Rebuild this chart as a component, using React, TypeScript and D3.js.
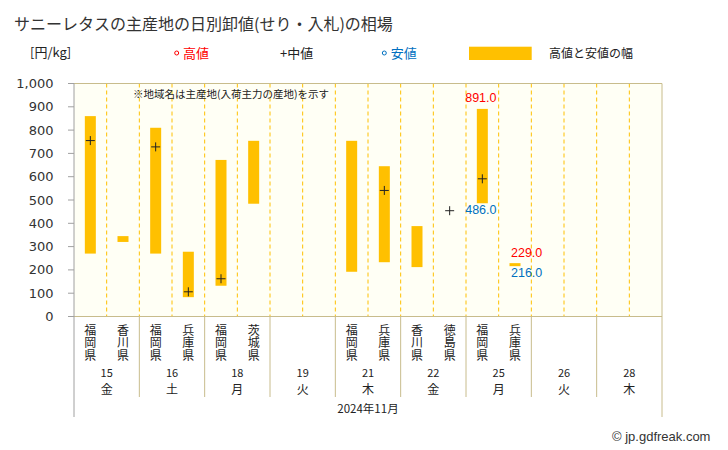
import React from "react";
import * as d3 from "d3";

const dates = ["15", "16", "18", "19", "21", "22", "25", "26", "28"];
const weekdays = ["金", "土", "月", "火", "木", "金", "月", "火", "木"];
const regions = ["福岡県", "香川県", "福岡県", "兵庫県", "福岡県", "茨城県", "", "", "福岡県", "兵庫県", "香川県", "徳島県", "福岡県", "兵庫県", "", "", "", ""];
const highs: (number | null)[] = [860, 345, 810, 278, 672, 754, null, null, 754, 645, 388, null, 891, 229, null, null, null, null];
const lows: (number | null)[] = [270, 320, 270, 83, 132, 484, null, null, 192, 233, 212, null, 486, 216, null, null, null, null];
const mids: (number | null)[] = [755, null, 728, 106, 162, null, null, null, null, 541, null, 454, 591, null, null, null, null, null];
const labeledSlots = [12, 13];
const labelAnchors = ["middle", "start"];
const yTicks = [0, 100, 200, 300, 400, 500, 600, 700, 800, 900, 1000];
const monthLabel = "2024年11月";

const W = 728, H = 450;
const L = 74, R = 662, T = 83.5, B = 316.5;
const JP = "'Noto Sans CJK JP', 'Noto Sans', sans-serif";
const NUM = "'DejaVu Sans', Verdana, sans-serif";
const LAB = "'Liberation Sans', Arial, sans-serif";
const BAR = "#FFC000";
const BORDER = "#C8BC8C";
const AXIS = "#A0A0A0";

export default function App() {
  const slots = d3.range(regions.length);
  const x = d3.scaleBand<number>().domain(slots).range([L, R]).padding(0);
  const y = d3.scaleLinear().domain([0, 1000]).range([B, T]);
  const dateX = d3.scaleBand<number>().domain(d3.range(dates.length)).range([L, R]);
  const bw = 11;
  const cx = (i: number) => (x(i) as number) + x.bandwidth() / 2;
  const fmt = d3.format(",");

  return (
    <svg width={W} height={H} style={{ position: "absolute", left: 0, top: 0, background: "#fff" }}>
      <text x={14} y={30} fontFamily={JP} fontSize={16} fill="#333">サニーレタスの主産地の日別卸値(せり・入札)の相場</text>
      {/* legend */}
      <text x={30} y={57} fontFamily={JP} fontSize={13} fill="#222">[円/kg]</text>
      <circle cx={176.7} cy={53} r={2} fill="none" stroke="#FF0000" strokeWidth={1} />
      <text x={183} y={57.5} fontFamily={JP} fontSize={13} fill="#FF0000">高値</text>
      <text x={280} y={57.5} fontFamily={JP} fontSize={13} fill="#222">+中値</text>
      <circle cx={384.3} cy={53} r={2} fill="none" stroke="#0070C0" strokeWidth={1} />
      <text x={390.7} y={57.5} fontFamily={JP} fontSize={13} fill="#0070C0">安値</text>
      <rect x={469} y={46.7} width={62.7} height={13.3} fill={BAR} />
      <text x={549} y={57.5} fontFamily={JP} fontSize={12} fill="#222">高値と安値の幅</text>

      {/* plot background */}
      <rect x={L} y={T} width={R - L} height={B - T} fill="#FFFFF5" />
      {slots.slice(1).map((i) => (
        <line key={"d" + i} x1={x(i)} x2={x(i)} y1={T} y2={B} stroke={BAR} strokeWidth={1} strokeDasharray="4,3" />
      ))}
      <line x1={L} x2={R} y1={T} y2={T} stroke={BORDER} />
      <line x1={R} x2={R} y1={T} y2={417} stroke={BORDER} />
      <line x1={L} x2={R} y1={B} y2={B} stroke={BORDER} />
      <line x1={L} x2={L} y1={T} y2={417} stroke={AXIS} />
      {d3.range(1, dates.length).map((j) => (
        <line key={"s" + j} x1={dateX(j)} x2={dateX(j)} y1={B} y2={397} stroke={BORDER} />
      ))}

      {/* y axis */}
      {yTicks.map((t) => (
        <g key={"t" + t}>
          <line x1={68} x2={L} y1={y(t)} y2={y(t)} stroke={AXIS} />
          <text x={53.5} y={y(t) + 4.5} textAnchor="end" fontFamily={NUM} fontSize={13} fill="#333">{fmt(t)}</text>
        </g>
      ))}

      <text x={133} y={97.5} fontFamily={JP} fontSize={10.5} fill="#222">※地域名は主産地(入荷主力の産地)を示す</text>

      {/* bars */}
      {slots.map((i) => {
        const h = highs[i], l = lows[i];
        if (h == null || l == null) return null;
        return <rect key={"b" + i} x={cx(i) - bw / 2} y={y(h)} width={bw} height={Math.max(1.5, y(l) - y(h))} fill={BAR} />;
      })}
      {slots.map((i) => {
        const m = mids[i];
        if (m == null) return null;
        const yy = y(m), c = cx(i);
        return (
          <g key={"m" + i} stroke="#222" strokeWidth={1}>
            <line x1={c - 4.5} x2={c + 4.5} y1={yy} y2={yy} />
            <line x1={c} x2={c} y1={yy - 4.5} y2={yy + 4.5} />
          </g>
        );
      })}
      {labeledSlots.map((i, k) => {
        const anchor = labelAnchors[k];
        const lx = anchor === "middle" ? cx(i) - 1.5 : cx(i) - 4;
        return (
          <g key={"l" + i} fontFamily={LAB} fontSize={12.5}>
            <text x={lx} y={y(highs[i] as number) - 6.5} textAnchor={anchor} fill="#FF0000">{(highs[i] as number).toFixed(1)}</text>
            <text x={lx} y={y(lows[i] as number) + 11} textAnchor={anchor} fill="#0070C0">{(lows[i] as number).toFixed(1)}</text>
          </g>
        );
      })}

      {/* x axis labels */}
      {slots.map((i) =>
        regions[i] ? (
          <text key={"r" + i} x={cx(i)} y={324} fontFamily={JP} fontSize={12} fill="#222"
            style={{ writingMode: "vertical-rl", letterSpacing: "0.5px" }}>{regions[i]}</text>
        ) : null
      )}
      {dates.map((d, j) => (
        <g key={"dt" + j}>
          <text x={(dateX(j) as number) + dateX.bandwidth() / 2} y={377} textAnchor="middle" fontFamily={JP} fontSize={11} fill="#222">{d}</text>
          <text x={(dateX(j) as number) + dateX.bandwidth() / 2} y={393.5} textAnchor="middle" fontFamily={JP} fontSize={12} fill="#222">{weekdays[j]}</text>
        </g>
      ))}
      <text x={(L + R) / 2} y={413} textAnchor="middle" fontFamily={JP} fontSize={11.5} fill="#222">{monthLabel}</text>

      <text x={612} y={440.5} fontFamily={LAB} fontSize={13} fill="#333">© jp.gdfreak.com</text>
    </svg>
  );
}
